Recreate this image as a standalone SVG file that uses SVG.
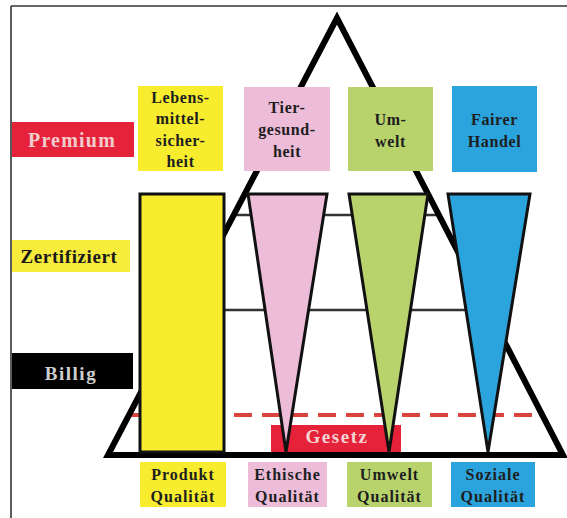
<svg xmlns="http://www.w3.org/2000/svg" width="567" height="518" viewBox="0 0 567 518">
<style>
.t{font-family:"Liberation Serif","Times New Roman",serif;font-weight:bold;text-anchor:middle}
.box{font-size:16px;letter-spacing:0.6px;fill:#1e1e1e}
.bot{font-size:16px;letter-spacing:1px;fill:#1e1e1e}
.lab{font-size:19px;letter-spacing:1.2px}
.y{fill:#f8ec2e}
.p{fill:#ecbcd8}
.g{fill:#b9d36c}
.b{fill:#2ba3dd}
.col{stroke:#111;stroke-width:3;stroke-linejoin:miter}
</style>
<rect width="567" height="518" fill="#fff"/>
<g id="frame" stroke="#333" stroke-width="1.6" fill="none">
<line x1="11" y1="6" x2="567" y2="6"/>
<line x1="11" y1="6" x2="11" y2="518"/>
</g>
<g id="connectors">
<line x1="234" y1="215" x2="439" y2="215" stroke="#333" stroke-width="2.5"/>
<line x1="184" y1="310" x2="488" y2="310" stroke="#333" stroke-width="2.5"/>
<line x1="128" y1="415" x2="543" y2="415" stroke="#d9443f" stroke-width="4" stroke-dasharray="18 10" stroke-dashoffset="6"/>
</g>
<g id="gesetz">
<rect x="271" y="425" width="130" height="27" fill="#e5223a"/>
</g>
<g id="pyramid">
<polygon points="337,18 108,455 563,455" fill="none" stroke="#000" stroke-width="6" stroke-linejoin="miter"/>
</g>
<g id="col-produkt"><rect class="y col" x="140" y="194" width="84" height="258"/></g>
<g id="col-ethisch"><polygon class="p col" points="248,194 327,194 286,452"/></g>
<g id="col-umwelt"><polygon class="g col" points="349,194 428,194 389,452"/></g>
<g id="col-sozial"><polygon class="b col" points="448,194 530,194 488,452"/></g>
<g id="gesetz-label"><text class="t lab" x="337" y="443" fill="#f7d3d4" style="letter-spacing:1.5px">Gesetz</text></g>
<g id="premium">
<rect x="12" y="122" width="122" height="35" fill="#e5223a"/>
<text class="t lab" x="72" y="147" fill="#f2cccc" style="font-size:20px">Premium</text>
</g>
<g id="zertifiziert">
<rect x="12" y="240" width="118" height="32" fill="#f7ec3c"/>
<text class="t lab" x="69" y="263" fill="#1a1a1a" style="letter-spacing:0.6px">Zertifiziert</text>
</g>
<g id="billig">
<rect x="12" y="353" width="121" height="36" fill="#000"/>
<text class="t lab" x="71" y="380" fill="#cfcfcf" style="letter-spacing:1.5px">Billig</text>
</g>
<g id="top-lebensmittel">
<rect class="y" x="138" y="86" width="85" height="85"/>
<text class="t box" x="180.5" y="102.5">Lebens-</text>
<text class="t box" x="180.5" y="124">mittel-</text>
<text class="t box" x="180.5" y="145.5">sicher-</text>
<text class="t box" x="180.5" y="167">heit</text>
</g>
<g id="top-tier">
<rect class="p" x="244" y="87" width="86" height="84"/>
<text class="t box" x="287" y="113">Tier-</text>
<text class="t box" x="287" y="135">gesund-</text>
<text class="t box" x="287" y="157">heit</text>
</g>
<g id="top-umwelt">
<rect class="g" x="348" y="87" width="85" height="84"/>
<text class="t box" x="390.5" y="125">Um-</text>
<text class="t box" x="390.5" y="147">welt</text>
</g>
<g id="top-handel">
<rect class="b" x="452" y="86" width="85" height="86"/>
<text class="t box" x="494.5" y="125" fill="#1a2530">Fairer</text>
<text class="t box" x="494.5" y="147" fill="#1a2530">Handel</text>
</g>
<g id="bot-produkt">
<rect class="y" x="140" y="462" width="86" height="45"/>
<text class="t bot" x="183" y="480">Produkt</text>
<text class="t bot" x="183" y="502">Qualität</text>
</g>
<g id="bot-ethisch">
<rect class="p" x="248" y="462" width="79" height="45"/>
<text class="t bot" x="287.5" y="480">Ethische</text>
<text class="t bot" x="287.5" y="502">Qualität</text>
</g>
<g id="bot-umwelt">
<rect class="g" x="347" y="462" width="85" height="45"/>
<text class="t bot" x="389.5" y="480">Umwelt</text>
<text class="t bot" x="389.5" y="502">Qualität</text>
</g>
<g id="bot-sozial">
<rect class="b" x="451" y="462" width="84" height="45"/>
<text class="t bot" x="493" y="480" fill="#1a2530">Soziale</text>
<text class="t bot" x="493" y="502" fill="#1a2530">Qualität</text>
</g>
</svg>
